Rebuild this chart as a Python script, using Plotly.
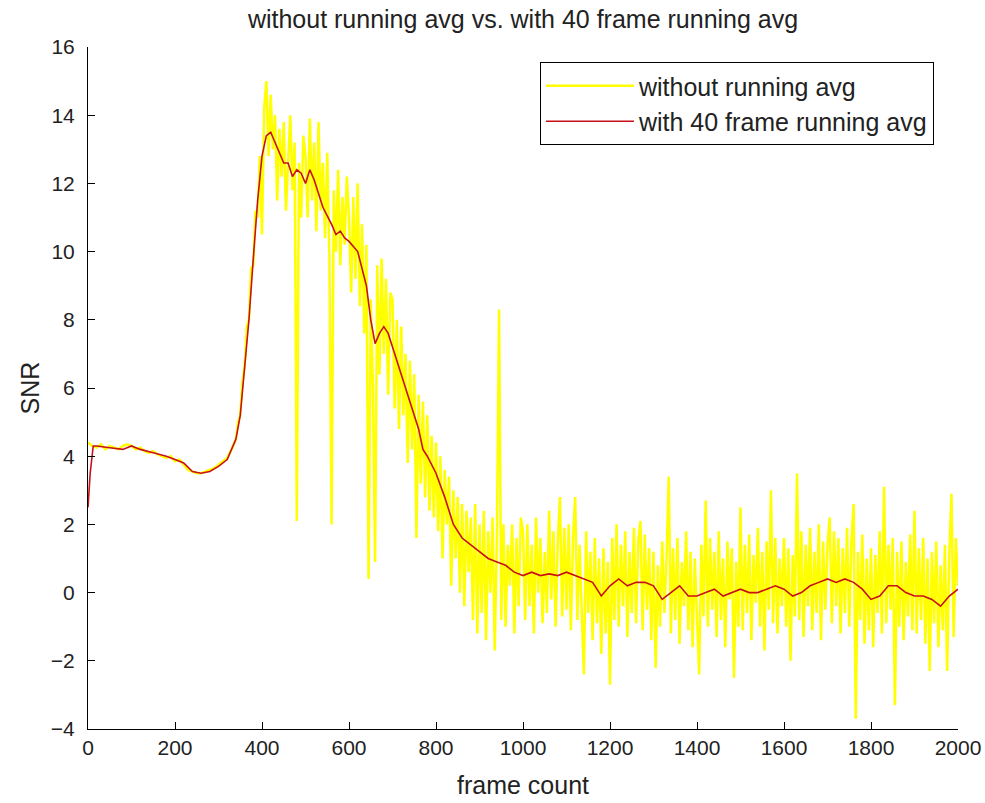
import plotly.graph_objects as go

# ---------------- data ----------------
title_text = "without running avg vs. with 40 frame running avg"
name_raw = "without running avg"
name_avg = "with 40 frame running avg"

# raw SNR, quiet part (every 10 frames, 0..330)
raw_frames_a = list(range(0, 340, 10))
raw_values_a = [4.4, 4.3, 4.25, 4.35, 4.2, 4.3, 4.25, 4.2, 4.3, 4.35, 4.3, 4.2,
                4.25, 4.15, 4.1, 4.15, 4.05, 4.0, 3.95, 4.0, 3.85, 3.9, 3.75, 3.6,
                3.55, 3.5, 3.5, 3.55, 3.6, 3.65, 3.75, 3.85, 3.95, 4.2]

# raw SNR, noisy part (every 5 frames, 340..2000)
raw_frames_b = list(range(340, 2001, 5))
raw_values_b = (
    [4.5, 5.0, 5.2, 6.2, 6.6, 7.8, 8.0, 9.5, 9.6, 11.2, 11.0, 12.8]
    + [10.5, 14.2, 15.0, 12.8, 14.6, 13.0, 14.0, 11.5, 13.6, 12.2, 13.8, 11.2, 12.8, 14.0, 11.8, 13.2, 2.1, 12.6, 11.0, 13.4]
    + [12.8, 11.0, 13.9, 11.5, 13.2, 10.6, 13.8, 11.2, 12.6, 10.4, 12.9, 9.8, 2.0, 11.8, 10.0, 12.4, 9.6, 11.6, 10.2, 12.2]
    + [11.0, 8.8, 11.6, 9.2, 12.0, 8.4, 10.8, 7.6, 10.2, 0.4, 8.6, 6.0, 0.9, 9.6, 6.4, 9.8, 7.0, 9.2, 5.8, 8.8]
    + [8.6, 5.4, 8.0, 4.8, 7.8, 5.2, 7.0, 3.8, 6.8, 4.2, 6.4, 1.6, 5.8, 3.2, 5.6, 2.8, 5.2, 2.4, 4.6, 2.2]
    + [4.4, 1.8, 4.0, 1.0, 3.6, 2.0, 3.4, 0.2, 3.0, 1.0, 2.8, 0.0, 2.6, -0.4, 2.4, 0.6, 2.2, -0.8, 2.6, -1.2]
    + [2.0, -0.6, 2.4, -1.4, 1.8, 0.0, 2.2, -1.7, 1.6, 8.3, -0.8, 2.0, -1.0, 1.4, 0.2, 2.0, -1.2, 1.6, -0.4, 2.2]
    + [1.8, -0.8, 2.0, -0.4, 1.4, -1.2, 2.2, 0.0, 1.6, -0.9, 1.2, -0.6, 2.4, -0.2, 1.8, -1.0, 1.5, 2.8, -0.7, 1.9]
    + [-0.5, 2.0, -1.1, 1.6, 2.8, -0.8, 1.4, -0.3, -2.4, 1.8, -0.6, 1.2, -1.4, 1.6, -0.9, 1.0, -1.8, 1.3, -1.2, 0.9]
    + [-2.7, 1.6, -0.8, 2.0, -1.0, 1.4, -0.4, 1.8, -1.3, 1.2, -0.6, 1.9, -0.9, 1.5, 2.1, -1.1, 1.7, -0.5, 1.3, -1.4]
    + [1.2, -2.2, 0.8, -1.0, 1.5, -0.6, 1.0, 3.4, -1.2, 1.3, -0.8, 1.6, -1.5, 0.9, -0.4, 1.8, -1.1, 1.2, -1.6, 1.0]
    + [-0.9, -2.4, 1.4, -0.7, 2.7, -1.0, 1.6, -0.5, 1.2, -1.3, 1.8, -0.8, 1.0, -1.6, 1.5, -0.2, 1.3, -2.5, 0.9, -1.0]
    + [2.5, -1.1, 1.4, -0.6, 1.7, -1.4, 1.1, -0.3, 1.9, -1.0, 1.2, -1.7, 1.5, -0.5, 3.0, -0.9, 1.6, -1.2, 1.0, -0.4]
    + [1.6, -1.0, 1.3, -2.0, 1.1, -0.7, 3.5, -0.8, 1.8, -1.3, 1.4, -0.4, 1.9, -1.1, 1.2, -0.6, 2.0, -1.4, 1.5, -0.5]
    + [1.4, 2.2, -0.9, 1.8, -0.4, 1.6, -1.2, 1.3, -0.6, 1.9, -1.0, 1.5, 2.6, -3.7, 1.2, -0.8, 1.7, -1.5, 1.0, -1.1]
    + [1.3, -1.6, 1.1, -0.6, 1.8, -1.2, 3.1, -0.9, 1.4, -0.5, 1.6, -3.3, 1.2, -1.0, 1.5, -1.4, 0.9, -0.7, 1.7, -1.1]
    + [2.4, -1.2, 1.3, -0.8, 1.6, -1.5, 1.0, -2.3, 1.2, -0.9, 1.5, -1.6, 0.8, -1.1, 1.4, -2.3, 1.1, 2.9, -1.3, 1.6, 0.2]
)

raw_frames = raw_frames_a + raw_frames_b
raw_values = raw_values_a + raw_values_b

# 40-frame running average
avg_frames = [0, 5, 12, 20, 50, 80, 100, 120, 150, 180, 200, 220, 240, 260, 280, 300,
              320, 340, 350, 360, 370, 380, 390, 400, 410, 420, 430, 440, 450, 460,
              470, 480, 490, 500, 510, 520, 530, 540, 560, 570, 580, 590, 600, 620,
              640, 650, 660, 670, 680, 690, 700, 720, 740, 760, 770, 780, 800, 820,
              840, 860, 880, 900, 920, 940, 960, 980, 1000, 1020, 1040, 1060, 1080,
              1100, 1120, 1140, 1160, 1180, 1200, 1220, 1240, 1260, 1280, 1300, 1320,
              1340, 1360, 1380, 1400, 1420, 1440, 1460, 1480, 1500, 1520, 1540, 1560,
              1580, 1600, 1620, 1640, 1660, 1680, 1700, 1720, 1740, 1760, 1780, 1800,
              1820, 1840, 1860, 1880, 1900, 1920, 1940, 1960, 1980, 2000]
avg_values = [2.5, 3.5, 4.3, 4.3, 4.25, 4.2, 4.3, 4.2, 4.1, 4.0, 3.9, 3.8, 3.55, 3.5,
              3.55, 3.7, 3.9, 4.5, 5.2, 6.5, 8.0, 9.8, 11.5, 12.8, 13.4, 13.5, 13.2,
              12.9, 12.6, 12.6, 12.2, 12.4, 12.3, 12.0, 12.4, 12.1, 11.7, 11.3, 10.8,
              10.5, 10.6, 10.4, 10.3, 10.0, 9.0, 8.0, 7.3, 7.6, 7.8, 7.6, 7.2, 6.4,
              5.6, 4.8, 4.2, 4.0, 3.5, 2.8, 2.0, 1.6, 1.4, 1.2, 1.0, 0.9, 0.8, 0.6,
              0.5, 0.6, 0.5, 0.55, 0.5, 0.6, 0.5, 0.4, 0.3, -0.1, 0.2, 0.4, 0.2, 0.3,
              0.3, 0.2, -0.2, 0.0, 0.2, -0.1, -0.1, 0.0, 0.1, -0.1, 0.0, 0.1, 0.0, 0.0,
              0.1, 0.2, 0.1, -0.1, 0.0, 0.2, 0.3, 0.4, 0.3, 0.4, 0.3, 0.1, -0.2, -0.1,
              0.2, 0.2, 0.0, -0.1, -0.1, -0.2, -0.4, -0.1, 0.1]

x_ticks = [0, 200, 400, 600, 800, 1000, 1200, 1400, 1600, 1800, 2000]
y_ticks = [-4, -2, 0, 2, 4, 6, 8, 10, 12, 14, 16]

# ---------------- figure ----------------
TXT = "Liberation Sans, Arial, sans-serif"
NUM = "Liberation Sans Narrow, Liberation Sans, Arial, sans-serif"

fig = go.Figure()
fig.add_trace(go.Scatter(x=raw_frames, y=raw_values, mode="lines", name=name_raw,
                         line=dict(color="#ffff00", width=2.5)))
fig.add_trace(go.Scatter(x=avg_frames, y=avg_values, mode="lines", name=name_avg,
                         line=dict(color="#c81018", width=1.6)))

fig.update_layout(
    width=985, height=803,
    margin=dict(l=88, r=27, t=47, b=74),
    paper_bgcolor="white", plot_bgcolor="white",
    title=dict(text=title_text, x=0.531, xanchor="center", y=0.976, yanchor="middle",
               font=dict(family=TXT, size=25, color="#222222")),
    showlegend=True,
    legend=dict(x=0.5195, y=0.978, xanchor="left", yanchor="top",
                bgcolor="white", bordercolor="black", borderwidth=1,
                font=dict(family=TXT, size=25, color="#222222"),
                itemwidth=88, tracegroupgap=4),
    xaxis=dict(range=[0, 2000], tickvals=x_ticks, ticks="inside", ticklen=7,
               tickcolor="black", showline=True, linecolor="black", linewidth=1,
               showgrid=False, zeroline=False, automargin=False,
               tickfont=dict(family=NUM, size=21, color="#222222"),
               title=dict(text="frame count", font=dict(family=TXT, size=25, color="#222222"),
                          standoff=18)),
    yaxis=dict(range=[-4, 16], tickvals=y_ticks, ticks="inside", ticklen=7,
               tickcolor="black", showline=True, linecolor="black", linewidth=1,
               showgrid=False, zeroline=False, ticklabelstandoff=8, automargin=False,
               tickfont=dict(family=NUM, size=21, color="#222222"),
               title=dict(text="SNR", font=dict(family=TXT, size=25, color="#222222"),
                          standoff=4)),
)

fig.write_html("out.html")
